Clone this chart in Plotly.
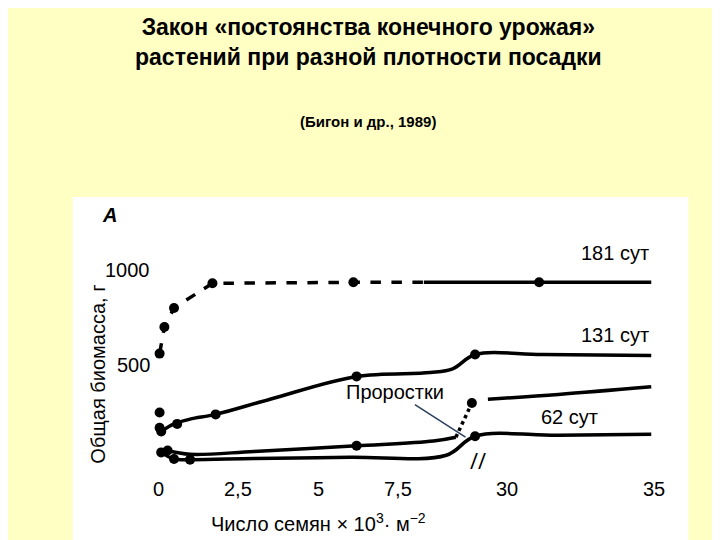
import plotly.graph_objects as go

# x positions in display units (0-10 linear, then axis break: 30 -> 10.9, 35 -> 15.5)
x181 = [0.05, 0.2, 0.5, 1.7, 6.1, 8.3]
y181 = [560, 700, 800, 930, 935, 935]
x181b = [8.3, 11.9, 15.4]
y181b = [935, 935, 935]
dots181 = [0.05, 0.2, 0.5, 1.7, 6.1, 11.9]
dy181 = [560, 700, 800, 930, 935, 935]

x131 = [0.1, 0.5, 1.0, 1.8, 3.5, 6.2, 8.5, 9.2, 9.9, 12.0, 15.4]
y131 = [150, 190, 215, 240, 320, 440, 460, 480, 555, 555, 550]
dots131 = [0.05, 0.1, 0.6, 1.8, 6.2, 9.9]
dy131 = [250, 150, 190, 240, 440, 555]

x62 = [0.3, 1.0, 3.0, 6.2, 8.6, 9.3]
y62 = [50, 30, 45, 75, 100, 120]
x62d = [9.3, 9.8]
y62d = [120, 300]
x62b = [10.3, 12.5, 15.4]
y62b = [320, 345, 385]
dots62 = [0.05, 0.3, 6.2, 9.8]
dy62 = [170, 50, 75, 300]

xs = [0.1, 0.5, 1.0, 3.0, 6.0, 9.0, 9.9, 12.5, 15.4]
ys = [40, 5, 2, 8, 15, 25, 125, 130, 135]
dotss = [0.1, 0.5, 1.0, 9.9]
dys = [40, 5, 2, 125]

xtick_pos = [0, 2.5, 5, 7.5, 10.9, 15.5]
xtick_text = ["0", "2,5", "5", "7,5", "30", "35"]
ytick_pos = [500, 1000]
ytick_text = ["500", "1000"]

FONT = "Liberation Sans, Arial, sans-serif"
fig = go.Figure()
blk = dict(color="black", width=3.5)
fig.add_trace(go.Scatter(x=x181, y=y181, mode="lines", line=dict(color="black", width=3.5, dash="dash")))
fig.add_trace(go.Scatter(x=x181b, y=y181b, mode="lines", line=blk))
fig.add_trace(go.Scatter(x=x131, y=y131, mode="lines", line=blk, line_shape="spline"))
fig.add_trace(go.Scatter(x=x62, y=y62, mode="lines", line=blk, line_shape="spline"))
fig.add_trace(go.Scatter(x=x62d, y=y62d, mode="lines", line=dict(color="black", width=3.5, dash="dot")))
fig.add_trace(go.Scatter(x=x62b, y=y62b, mode="lines", line=blk, line_shape="spline"))
fig.add_trace(go.Scatter(x=xs, y=ys, mode="lines", line=blk, line_shape="spline"))
for dx, dy in [(dots181, dy181), (dots131, dy131), (dots62, dy62), (dotss, dys)]:
    fig.add_trace(go.Scatter(x=dx, y=dy, mode="markers", marker=dict(color="black", size=10)))

tf = dict(size=20, color="black", family=FONT)
for lx, ly, t in [(15.4, 1090, "181 сут"), (15.4, 660, "131 сут"), (13.8, 225, "62 сут")]:
    fig.add_annotation(x=lx, y=ly, text=t, showarrow=False, xanchor="right", font=tf)
fig.add_annotation(x=9.6, y=120, ax=-70, ay=-45, text="Проростки", showarrow=True, arrowhead=0,
                   arrowwidth=1.5, font=tf)
fig.add_annotation(x=-1.5, y=1290, text="<i><b>А</b></i>", showarrow=False, font=tf)
fig.add_annotation(x=10.0, y=0, text="//", showarrow=False, font=dict(size=22, color="black"))

for p, t in zip(xtick_pos, xtick_text):
    fig.add_annotation(x=p, y=-150, text=t, showarrow=False, font=tf)
for p, t in zip(ytick_pos, ytick_text):
    fig.add_annotation(x=-0.2, y=p, text=t, showarrow=False, xanchor="right", font=tf)
fig.add_annotation(x=0, y=-150, text="", showarrow=False)
fig.add_annotation(x=5, y=-330, text="Число семян × 10<sup>3</sup>· м<sup>−2</sup>", showarrow=False, font=tf)
fig.add_annotation(x=-1.9, y=450, text="Общая биомасса, г", textangle=-90, showarrow=False, font=tf)

fig.add_annotation(xref="paper", yref="paper", x=0.5, y=1.0, yshift=-4,
                   text="<b>Закон «постоянства конечного урожая»<br>растений при разной плотности посадки</b>",
                   showarrow=False, font=dict(size=23, color="black", family=FONT), yanchor="top")
fig.add_annotation(xref="paper", yref="paper", x=0.5, y=0.81, text="<b>(Бигон и др., 1989)</b>", showarrow=False,
                   font=dict(size=15, color="black", family=FONT))

fig.update_layout(
    width=720, height=540, showlegend=False,
    paper_bgcolor="#FFFFC4", plot_bgcolor="white",
    margin=dict(l=0, r=0, t=0, b=0),
    xaxis=dict(domain=[0.09, 0.945], range=[-2.66, 16.56], showticklabels=False, showgrid=False,
               zeroline=False, ticks="", showline=False),
    yaxis=dict(domain=[0.0, 0.65], range=[-463, 1384], showticklabels=False, showgrid=False,
               zeroline=False, ticks="", showline=False),
)
fig.write_html("out.html")
